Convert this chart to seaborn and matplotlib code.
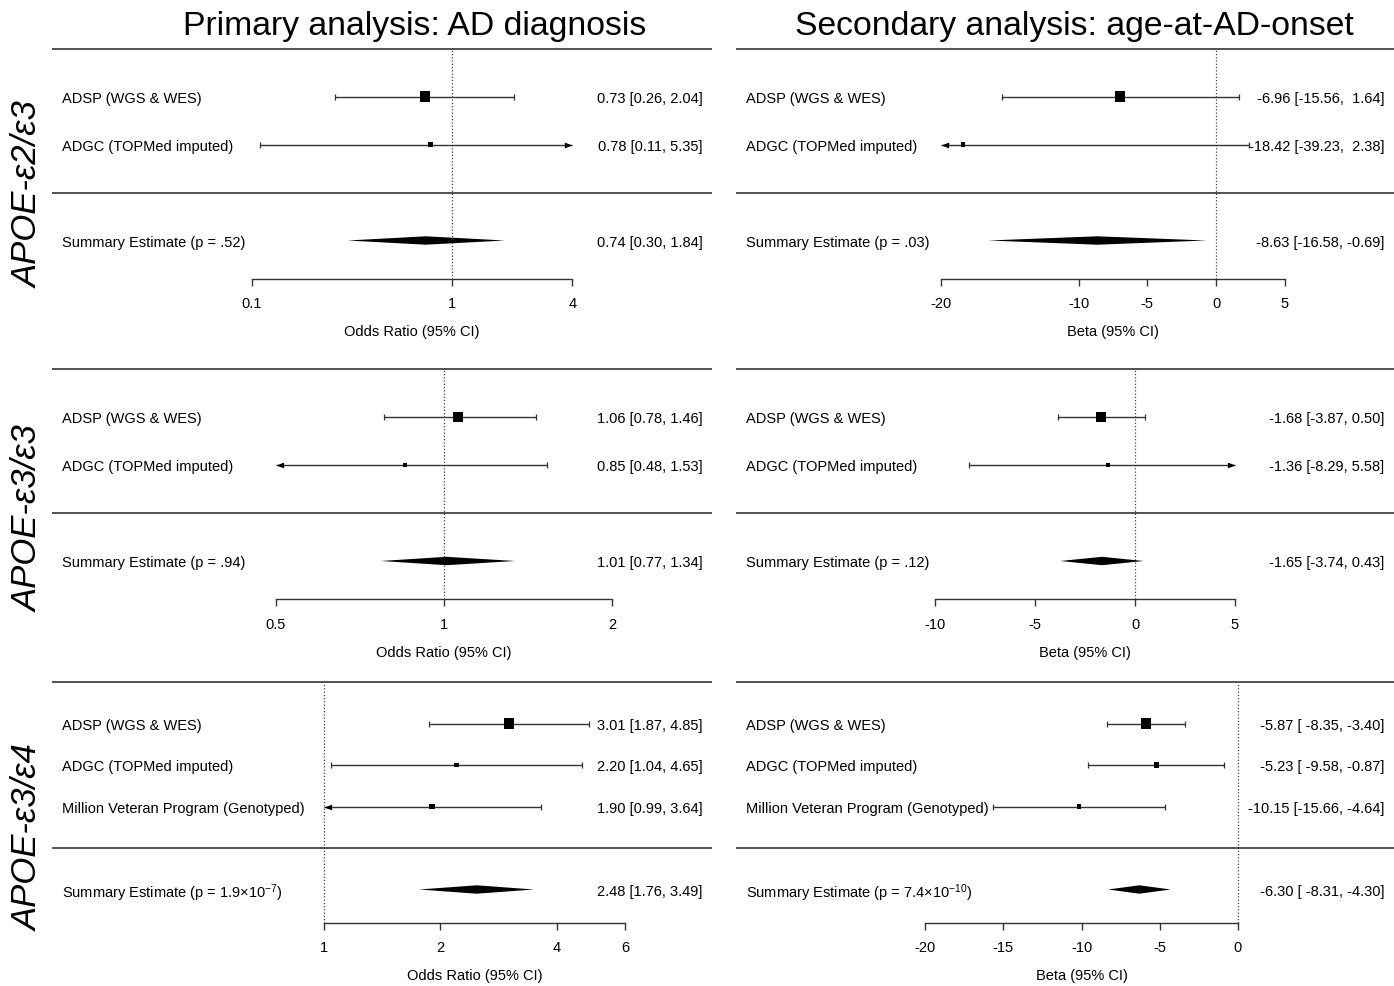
import numpy as np
import pandas as pd
import matplotlib
matplotlib.use("Agg")
import matplotlib.pyplot as plt
from matplotlib.path import Path
from matplotlib.ticker import NullLocator
import seaborn as sns

sns.set_theme(style="white")
plt.rcParams['font.family'] = ['Liberation Sans', 'DejaVu Sans']
plt.rcParams['text.color'] = 'black'
plt.rcParams['axes.labelcolor'] = 'black'
plt.rcParams['xtick.color'] = 'black'

# ---------------- data ----------------
study_names = ["ADSP (WGS & WES)", "ADGC (TOPMed imputed)",
               "Million Veteran Program (Genotyped)"]
genotype_labels = ["APOE-ε2/ε3", "APOE-ε3/ε3", "APOE-ε3/ε4"]
column_titles = ["Primary analysis: AD diagnosis",
                 "Secondary analysis: age-at-AD-onset"]
x_labels = ["Odds Ratio (95% CI)", "Beta (95% CI)"]

# APOE e2/e3
e23_or_est = [0.73, 0.78]
e23_or_lo = [0.26, 0.11]
e23_or_hi = [2.04, 5.35]
e23_or_summary = [0.74, 0.30, 1.84]
e23_or_p = "(p = .52)"
e23_beta_est = [-6.96, -18.42]
e23_beta_lo = [-15.56, -39.23]
e23_beta_hi = [1.64, 2.38]
e23_beta_summary = [-8.63, -16.58, -0.69]
e23_beta_p = "(p = .03)"

# APOE e3/e3
e33_or_est = [1.06, 0.85]
e33_or_lo = [0.78, 0.48]
e33_or_hi = [1.46, 1.53]
e33_or_summary = [1.01, 0.77, 1.34]
e33_or_p = "(p = .94)"
e33_beta_est = [-1.68, -1.36]
e33_beta_lo = [-3.87, -8.29]
e33_beta_hi = [0.50, 5.58]
e33_beta_summary = [-1.65, -3.74, 0.43]
e33_beta_p = "(p = .12)"

# APOE e3/e4
e34_or_est = [3.01, 2.20, 1.90]
e34_or_lo = [1.87, 1.04, 0.99]
e34_or_hi = [4.85, 4.65, 3.64]
e34_or_summary = [2.48, 1.76, 3.49]
e34_or_p = r"(p = 1.9×$\mathregular{10^{-7}}$)"
e34_beta_est = [-5.87, -5.23, -10.15]
e34_beta_lo = [-8.35, -9.58, -15.66]
e34_beta_hi = [-3.40, -0.87, -4.64]
e34_beta_summary = [-6.30, -8.31, -4.30]
e34_beta_p = r"(p = 7.4×$\mathregular{10^{-10}}$)"

or_ticks = [[0.1, 1, 4], [0.5, 1, 2], [1, 2, 4, 6]]
beta_ticks = [[-20, -10, -5, 0, 5], [-10, -5, 0, 5], [-20, -15, -10, -5, 0]]

# ---------------- layout ----------------
FW, FH = 1394, 987
fig = plt.figure(figsize=(FW / 100, FH / 100), dpi=100)

col_px = [(52, 660), (736, 658)]
row_layout = [(193.5, 48.0), (514.0, 48.0), (849.0, 41.5)]   # (row-0 pixel, px per row)
xlims = [[(0.01, 19.95), (-34.91, 12.945)],
         [(0.1984, 3.021), (-19.95, 12.95)],
         [(0.198, 10.07), (-32.08, 9.97)]]
AXIS_ROW = -1.8
LINE_C = '#333333'
FS = 10.5

panels = [
    [(e23_or_est, e23_or_lo, e23_or_hi, e23_or_summary, e23_or_p),
     (e23_beta_est, e23_beta_lo, e23_beta_hi, e23_beta_summary, e23_beta_p)],
    [(e33_or_est, e33_or_lo, e33_or_hi, e33_or_summary, e33_or_p),
     (e33_beta_est, e33_beta_lo, e33_beta_hi, e33_beta_summary, e33_beta_p)],
    [(e34_or_est, e34_or_lo, e34_or_hi, e34_or_summary, e34_or_p),
     (e34_beta_est, e34_beta_lo, e34_beta_hi, e34_beta_summary, e34_beta_p)],
]

arrow_right = Path([(0, 0), (-1, 0.38), (-1, -0.38), (0, 0)],
                   [Path.MOVETO, Path.LINETO, Path.LINETO, Path.CLOSEPOLY])
arrow_left = Path([(0, 0), (1, 0.38), (1, -0.38), (0, 0)],
                  [Path.MOVETO, Path.LINETO, Path.LINETO, Path.CLOSEPOLY])


def fmt_col(vals):
    s = [f"{v:.2f}" for v in vals]
    w = max(len(x) for x in s)
    return [x.rjust(w) for x in s]


def draw_panel(ax, est, lo, hi, summ, ptxt, ticks, is_or, xlim, unit):
    k = len(est)
    rows = np.arange(k, 0, -1).astype(float)
    est = np.asarray(est, float)
    lo = np.asarray(lo, float)
    hi = np.asarray(hi, float)
    if is_or:
        ax.set_xscale('log')
    ax.set_xlim(*xlim)
    ax.set_ylim(-2.05, k + 1.3)
    amin, amax = ticks[0], ticks[-1]

    # horizontal rules
    ax.axhline(k + 1, color=LINE_C, lw=1.2)
    ax.axhline(0, color=LINE_C, lw=1.2)
    # reference line
    ref = 1 if is_or else 0
    ax.vlines(ref, AXIS_ROW, k + 1, colors='#444444', lw=0.9,
              linestyles=(0, (1, 1.6)))

    # confidence intervals
    clo = np.clip(lo, amin, amax)
    chi = np.clip(hi, amin, amax)
    ax.hlines(rows, clo, chi, colors=LINE_C, lw=1.0)
    for r, l, h in zip(rows, lo, hi):
        if l < amin:
            ax.plot([amin], [r], marker=arrow_left, ms=11, color='black', mew=0)
        else:
            ax.plot([l], [r], marker='|', ms=4, mew=0.9, color=LINE_C)
        if h > amax:
            ax.plot([amax], [r], marker=arrow_right, ms=11, color='black', mew=0)
        else:
            ax.plot([h], [r], marker='|', ms=4, mew=0.9, color=LINE_C)

    # square sizes from inverse-variance weights (metafor style)
    if is_or:
        se = (np.log(hi) - np.log(lo)) / (2 * 1.96)
    else:
        se = (hi - lo) / (2 * 1.96)
    w = 1 / se ** 2
    psize = 0.5 + (w - w.min()) / (w.max() - w.min())
    side_px = 1.2 + 5.9 * psize
    s_area = (side_px * 0.72) ** 2
    df = pd.DataFrame({"est": est, "row": rows})
    sns.scatterplot(data=df, x="est", y="row", s=s_area, marker='s',
                    color='black', linewidth=0, ax=ax, legend=False, zorder=5)

    # summary diamond
    s_est, s_lo, s_hi = summ
    hh = 4.2 / unit
    ax.fill([s_lo, s_est, s_hi, s_est], [-1, -1 + hh, -1, -1 - hh],
            color='black', lw=0, zorder=5)

    # text columns
    trans = ax.get_yaxis_transform()
    lx = 10 / (ax.get_position().width * FW)
    rx = 1 - 9.5 / (ax.get_position().width * FW)
    for r, name in zip(rows, study_names[:k]):
        ax.text(lx, r, name, transform=trans, ha='left', va='center_baseline',
                fontsize=FS)
    ax.text(lx, -1, "Summary Estimate " + ptxt, transform=trans,
            ha='left', va='center_baseline', fontsize=FS)
    c_est = fmt_col(list(est) + [s_est])
    c_lo = fmt_col(list(lo) + [s_lo])
    c_hi = fmt_col(list(hi) + [s_hi])
    for r, a, b, c in zip(list(rows) + [-1], c_est, c_lo, c_hi):
        ax.text(rx, r, f"{a} [{b}, {c}]", transform=trans,
                ha='right', va='center_baseline', fontsize=FS)

    # x axis
    for sp in ['top', 'left', 'right']:
        ax.spines[sp].set_visible(False)
    ax.spines['bottom'].set_position(('data', AXIS_ROW))
    ax.spines['bottom'].set_bounds(amin, amax)
    ax.spines['bottom'].set_color(LINE_C)
    ax.spines['bottom'].set_linewidth(1.0)
    ax.set_xticks(ticks)
    ax.set_xticklabels([f"{t:g}" for t in ticks])
    ax.xaxis.set_minor_locator(NullLocator())
    ax.tick_params(axis='x', which='major', bottom=True, direction='out',
                   length=5, width=1.0, color=LINE_C, pad=7.5, labelsize=FS,
                   labelcolor='black')
    ax.set_yticks([])
    ax.set_xlabel("")
    ax.set_ylabel("")
    mid = np.sqrt(amin * amax) if is_or else (amin + amax) / 2
    ax.annotate(x_labels[0] if is_or else x_labels[1], xy=(mid, AXIS_ROW),
                xytext=(0, -51 * 0.72), textcoords='offset points',
                ha='center', va='center_baseline', fontsize=FS)


for gi in range(3):
    row0, unit = row_layout[gi]
    for ci in range(2):
        est, lo, hi, summ, ptxt = panels[gi][ci]
        k = len(est)
        ylo, yhi = -2.05, k + 1.3
        top_px = row0 - yhi * unit
        bot_px = row0 - ylo * unit
        x0, wpx = col_px[ci]
        ax = fig.add_axes([x0 / FW, 1 - bot_px / FH, wpx / FW, (bot_px - top_px) / FH])
        ax.set_facecolor('none')
        ticks = or_ticks[gi] if ci == 0 else beta_ticks[gi]
        draw_panel(ax, est, lo, hi, summ, ptxt, ticks, ci == 0, xlims[gi][ci], unit)

# titles
fig.text(415 / FW, 1 - 35 / FH, column_titles[0], ha='center', va='baseline', fontsize=24.3)
fig.text(1074.5 / FW, 1 - 35 / FH, column_titles[1], ha='center', va='baseline', fontsize=24.3)

# genotype labels
label_centers = [195, 519, 838]
for lab, yc in zip(genotype_labels, label_centers):
    fig.text(28 / FW, 1 - yc / FH, lab, rotation=90, ha='center', va='center',
             fontsize=25, style='italic')

fig.savefig("out.png", dpi=100, facecolor='white')
